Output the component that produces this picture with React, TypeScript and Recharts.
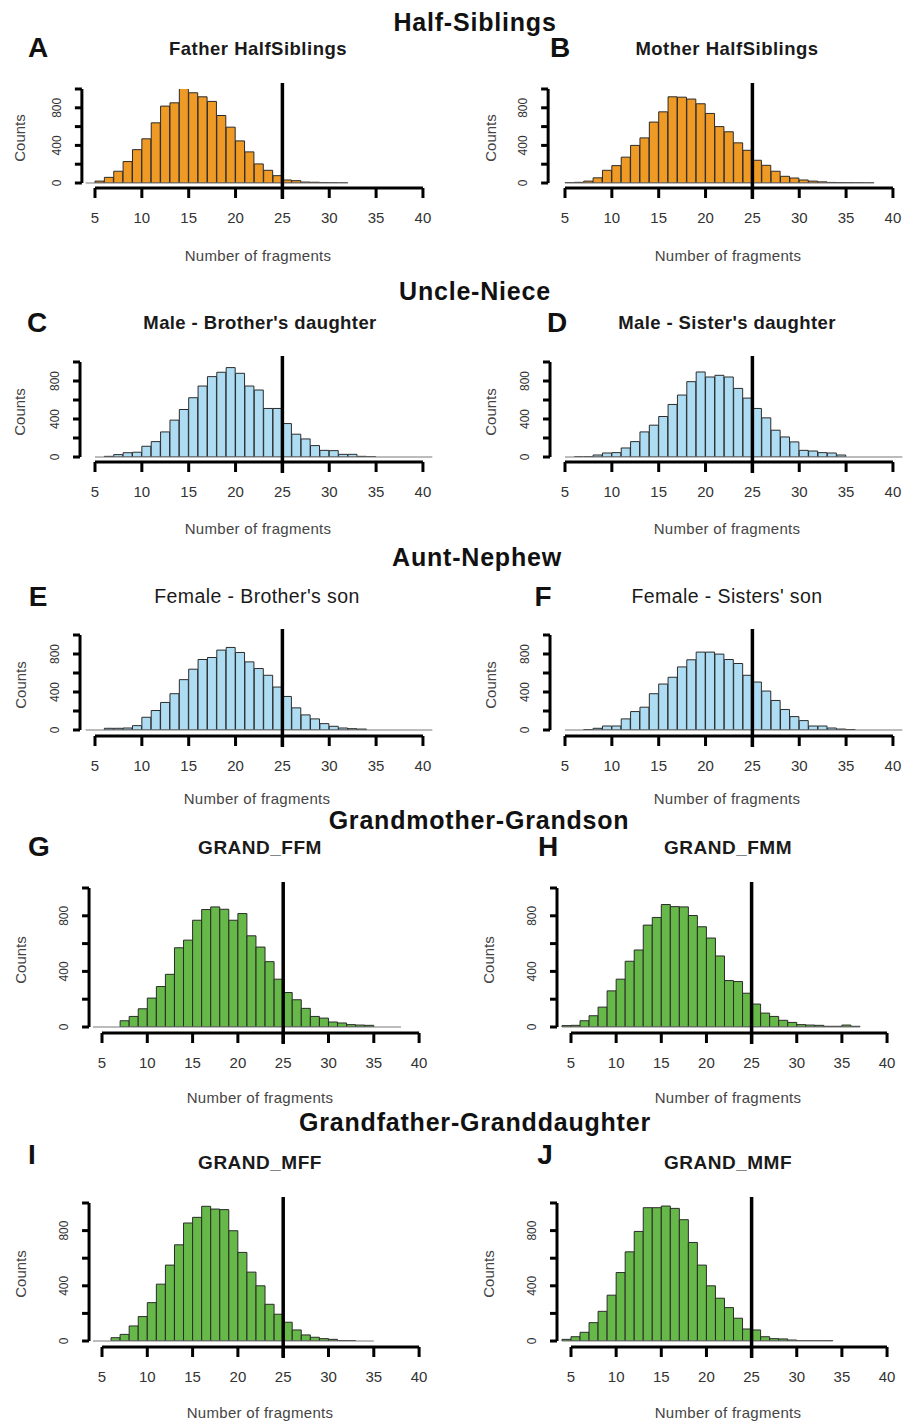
import React from 'react';
import { ComposedChart, Bar, XAxis, YAxis, ReferenceLine } from 'recharts';

// ---------- data ----------
const X_TICKS = [5, 10, 15, 20, 25, 30, 35, 40];
const Y_TICKS = [0, 200, 400, 600, 800, 1000];
const Y_LABELED = [0, 400, 800];
const THRESHOLD = 25;
const X_MAX = 42;

const sectionTitles = ['Half-Siblings', 'Uncle-Niece', 'Aunt-Nephew', 'Grandmother-Grandson', 'Grandfather-Granddaughter'];
const panelLetters = ['A', 'B', 'C', 'D', 'E', 'F', 'G', 'H', 'I', 'J'];
const panelTitles = [
  'Father HalfSiblings', 'Mother HalfSiblings',
  "Male - Brother's daughter", "Male - Sister's daughter",
  "Female - Brother's son", "Female - Sisters' son",
  'GRAND_FFM', 'GRAND_FMM', 'GRAND_MFF', 'GRAND_MMF',
];

// first bin left edge (bins are 1 fragment wide)
const binStarts = [4, 5, 5, 5, 4, 5, 4, 4, 4, 4];

const fatherHalfSiblings = [0, 20, 60, 125, 228, 355, 470, 640, 818, 853, 1035, 960, 917, 868, 718, 594, 448, 331, 203, 135, 78, 32, 25, 10, 8, 4, 2, 1];
const motherHalfSiblings = [3, 7, 20, 55, 135, 185, 275, 400, 480, 648, 757, 917, 913, 893, 843, 740, 600, 545, 427, 348, 242, 188, 125, 71, 53, 32, 20, 12, 6, 4, 3, 2, 1];
const maleBrothersDaughter = [0, 7, 25, 45, 50, 113, 162, 264, 388, 500, 624, 747, 846, 892, 941, 881, 747, 705, 511, 511, 352, 240, 190, 120, 70, 67, 28, 28, 7, 2, 0, 0, 0, 0, 0, 0];
const maleSistersDaughter = [0, 1, 2, 21, 42, 46, 95, 162, 264, 335, 426, 553, 652, 793, 895, 842, 860, 842, 722, 620, 511, 412, 282, 211, 159, 70, 63, 46, 42, 21, 0, 0, 0, 0, 0, 0];
const femaleBrothersSon = [0, 0, 18, 18, 21, 46, 134, 205, 290, 382, 530, 640, 742, 763, 841, 869, 816, 717, 647, 576, 452, 353, 233, 159, 117, 67, 39, 21, 14, 10, 0, 0, 0, 0, 0, 0, 0];
const femaleSistersSon = [0, 0, 5, 18, 42, 42, 117, 194, 240, 382, 484, 555, 664, 739, 820, 820, 799, 742, 700, 576, 505, 410, 311, 216, 141, 99, 42, 42, 21, 10, 5, 0, 0, 0, 0, 0];
const grandFFM = [0, 0, 0, 45, 76, 131, 208, 291, 379, 570, 625, 768, 845, 864, 847, 768, 816, 656, 575, 470, 344, 248, 196, 134, 76, 64, 36, 29, 17, 14, 12, 0, 0, 0];
const grandFMM = [10, 12, 45, 81, 143, 260, 344, 473, 554, 733, 788, 881, 866, 864, 802, 721, 640, 511, 334, 327, 243, 165, 100, 76, 48, 33, 17, 14, 12, 5, 5, 14, 5];
const grandMFF = [0, 0, 24, 48, 109, 177, 278, 412, 550, 697, 855, 896, 976, 956, 952, 799, 642, 499, 400, 266, 194, 136, 80, 44, 27, 17, 12, 3, 2, 0, 0];
const grandMMF = [12, 31, 63, 133, 215, 332, 496, 646, 794, 966, 966, 978, 961, 879, 714, 550, 400, 310, 242, 165, 87, 80, 31, 17, 15, 7, 2, 2, 2, 2];

const panelCounts = [
  fatherHalfSiblings, motherHalfSiblings,
  maleBrothersDaughter, maleSistersDaughter,
  femaleBrothersSon, femaleSistersSon,
  grandFFM, grandFMM, grandMFF, grandMMF,
];

// ---------- styles / layout ----------
const ORANGE = '#EE9A25';
const LIGHTBLUE = '#AEDDF3';
const GREEN = '#66B948';
const panelColors = [ORANGE, ORANGE, LIGHTBLUE, LIGHTBLUE, LIGHTBLUE, LIGHTBLUE, GREEN, GREEN, GREEN, GREEN];
const FONT = '"Liberation Sans", Arial, Helvetica, sans-serif';

type Layout = {
  left: number; p5: number; k: number; xMin: number;
  y0: number; y1000: number; axisY: number; xLabelY: number; xLabelX: number;
  countsX: number; titleX: number; titleY: number; letterX: number; letterY: number;
  titleSize: number; titleBold: boolean; titleLs: number;
};

const layouts: Layout[] = [
  { left: 0, p5: 95, k: 9.37, xMin: 3.6, y0: 183, y1000: 89, axisY: 188, xLabelY: 255, xLabelX: 258, countsX: 19, titleX: 258, titleY: 49, letterX: 38, letterY: 48, titleSize: 18.5, titleBold: true, titleLs: 0.5 },
  { left: 465, p5: 565, k: 9.37, xMin: 3.2, y0: 183, y1000: 89, axisY: 188, xLabelY: 255, xLabelX: 728, countsX: 490, titleX: 727, titleY: 49, letterX: 560, letterY: 48, titleSize: 18.5, titleBold: true, titleLs: 0.5 },
  { left: 0, p5: 95, k: 9.37, xMin: 3.4, y0: 457, y1000: 362, axisY: 462, xLabelY: 528, xLabelX: 258, countsX: 19, titleX: 260, titleY: 323, letterX: 37, letterY: 323, titleSize: 18.5, titleBold: true, titleLs: 0.4 },
  { left: 465, p5: 565, k: 9.37, xMin: 3.4, y0: 457, y1000: 362, axisY: 462, xLabelY: 528, xLabelX: 727, countsX: 490, titleX: 727, titleY: 323, letterX: 557, letterY: 323, titleSize: 18.5, titleBold: true, titleLs: 0.4 },
  { left: 0, p5: 95, k: 9.37, xMin: 3.4, y0: 730, y1000: 635, axisY: 736, xLabelY: 798, xLabelX: 257, countsX: 20, titleX: 257, titleY: 597, letterX: 38, letterY: 597, titleSize: 19.5, titleBold: false, titleLs: 0.4 },
  { left: 465, p5: 565, k: 9.37, xMin: 3.4, y0: 730, y1000: 635, axisY: 736, xLabelY: 798, xLabelX: 727, countsX: 490, titleX: 727, titleY: 597, letterX: 543, letterY: 597, titleSize: 19.5, titleBold: false, titleLs: 0.4 },
  { left: 0, p5: 102, k: 9.06, xMin: 3.57, y0: 1027, y1000: 888, axisY: 1033, xLabelY: 1097, xLabelX: 260, countsX: 20, titleX: 260, titleY: 847, letterX: 39, letterY: 847, titleSize: 19, titleBold: true, titleLs: 0.5 },
  { left: 465, p5: 571, k: 9.03, xMin: 3.45, y0: 1027, y1000: 888, axisY: 1033, xLabelY: 1097, xLabelX: 728, countsX: 488, titleX: 728, titleY: 847, letterX: 548, letterY: 847, titleSize: 19, titleBold: true, titleLs: 0.5 },
  { left: 0, p5: 102, k: 9.06, xMin: 3.57, y0: 1341, y1000: 1203, axisY: 1347, xLabelY: 1412, xLabelX: 260, countsX: 20, titleX: 260, titleY: 1162, letterX: 32, letterY: 1155, titleSize: 19, titleBold: true, titleLs: 0.5 },
  { left: 465, p5: 571, k: 9.03, xMin: 3.45, y0: 1341, y1000: 1203, axisY: 1347, xLabelY: 1412, xLabelX: 728, countsX: 488, titleX: 728, titleY: 1162, letterX: 545, letterY: 1155, titleSize: 19, titleBold: true, titleLs: 0.5 },
];

const sectionPos = [
  { x: 475, y: 22 }, { x: 475, y: 291 }, { x: 477, y: 557 }, { x: 479, y: 820 }, { x: 475, y: 1122 },
];

type TextProps = { x: number; y: number; size: number; bold?: boolean; rotate?: boolean; ls?: number; color?: string; children: React.ReactNode };
const T = ({ x, y, size, bold, rotate, ls, color, children }: TextProps) => (
  <div
    style={{
      position: 'absolute', left: x, top: y,
      transform: `translate(-50%, -50%)${rotate ? ' rotate(-90deg)' : ''}`,
      fontSize: size, fontWeight: bold ? 700 : 400, whiteSpace: 'nowrap', lineHeight: 1,
      letterSpacing: ls ?? 0, color: color ?? '#111', fontFamily: FONT,
    }}
  >
    {children}
  </div>
);

function Panel({ idx }: { idx: number }) {
  const L = layouts[idx];
  const counts = panelCounts[idx];
  const start = binStarts[idx];
  const data = counts.map((c, i) => ({ x: start + i + 0.5, count: c }));
  const first = start;
  const last = start + counts.length;

  const chartTop = L.y1000 - 30;
  const plotLeftAbs = L.p5 - (5 - L.xMin) * L.k;
  const plotRightAbs = L.p5 + (X_MAX - 5) * L.k;
  const width = plotRightAbs - L.left;
  const height = L.axisY + 45 - chartTop;
  const yAxisWidth = plotLeftAbs - L.left;
  const plotBottomLocal = L.axisY - chartTop;
  const xAxisHeight = height - plotBottomLocal;
  const pxPerCount = (L.y0 - L.y1000) / 1000;
  const yAt = (py: number) => (L.y0 - py) / pxPerCount;

  const xTick = (props: any) => {
    const { x, payload } = props;
    return (
      <text x={x} y={plotBottomLocal + 30} textAnchor="middle" dominantBaseline="central" fontSize={15} fill="#333" fontFamily={FONT}>
        {payload.value}
      </text>
    );
  };
  const yTick = (props: any) => {
    const { y, payload } = props;
    if (!Y_LABELED.includes(payload.value)) return <g />;
    const cx = yAxisWidth - 25;
    return (
      <text x={cx} y={y} transform={`rotate(-90 ${cx} ${y})`} textAnchor="middle" dominantBaseline="central" fontSize={12} fill="#333" fontFamily={FONT}>
        {payload.value}
      </text>
    );
  };

  return (
    <div style={{ position: 'absolute', left: L.left, top: chartTop }}>
      <ComposedChart width={width} height={height} data={data} margin={{ top: 10, right: 0, bottom: 0, left: 0 }} barCategoryGap={0} barGap={0}>
        <XAxis
          type="number" dataKey="x" domain={[L.xMin, X_MAX]} allowDataOverflow ticks={X_TICKS} interval={0}
          axisLine={false} stroke="#000" tickLine={{ stroke: '#000', strokeWidth: 3 }} tickSize={10} tick={xTick} height={xAxisHeight}
        />
        <YAxis
          type="number" domain={[0, 1000]} allowDataOverflow ticks={Y_TICKS} interval={0} width={yAxisWidth}
          padding={{ top: 20, bottom: L.axisY - L.y0 }}
          axisLine={false} stroke="#000" tickLine={{ stroke: '#000', strokeWidth: 3 }} tickSize={7} tick={yTick}
        />
        <ReferenceLine segment={[{ x: first, y: 0 }, { x: last, y: 0 }]} stroke="#7a7a7a" strokeWidth={1.2} ifOverflow="visible" />
        <Bar dataKey="count" fill={panelColors[idx]} stroke="#2a2a2a" strokeWidth={1} isAnimationActive={false} />
        <ReferenceLine segment={[{ x: L.xMin, y: 0 }, { x: L.xMin, y: 1000 }]} stroke="#000" strokeWidth={3} ifOverflow="visible" />
        <ReferenceLine segment={[{ x: 5, y: yAt(L.axisY) }, { x: 40, y: yAt(L.axisY) }]} stroke="#000" strokeWidth={3} ifOverflow="visible" />
        <ReferenceLine segment={[{ x: THRESHOLD, y: yAt(L.y1000 - 6) }, { x: THRESHOLD, y: yAt(L.axisY + 11) }]} stroke="#000" strokeWidth={3.5} ifOverflow="visible" />
      </ComposedChart>
    </div>
  );
}

export default function App() {
  return (
    <div style={{ position: 'absolute', left: 0, top: 0, width: 903, height: 1423, overflow: 'hidden', background: '#fff', fontFamily: FONT }}>
      {layouts.map((_, i) => (
        <Panel key={'p' + i} idx={i} />
      ))}
      {sectionTitles.map((s, i) => (
        <T key={'s' + i} x={sectionPos[i].x} y={sectionPos[i].y} size={25} bold ls={0.8}>{s}</T>
      ))}
      {layouts.map((L, i) => (
        <React.Fragment key={'t' + i}>
          <T x={L.letterX} y={L.letterY} size={28} bold>{panelLetters[i]}</T>
          <T x={L.titleX} y={L.titleY} size={L.titleSize} bold={L.titleBold} ls={L.titleLs} color="#1a1a1a">{panelTitles[i]}</T>
          <T x={L.countsX} y={(L.y0 + L.y1000) / 2 + 2} size={15} rotate color="#444">Counts</T>
          <T x={L.xLabelX} y={L.xLabelY} size={15} ls={0.3} color="#444">Number of fragments</T>
        </React.Fragment>
      ))}
    </div>
  );
}
